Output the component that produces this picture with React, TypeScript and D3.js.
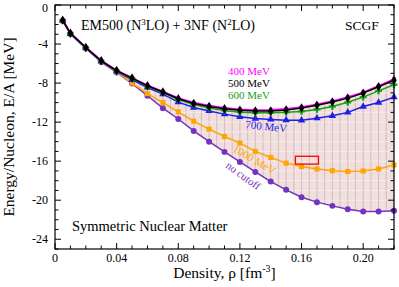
import React, { useEffect, useRef } from "react";
import * as d3 from "d3";

// densities [fm^-3]
const density = [0.005, 0.01, 0.02, 0.03, 0.04, 0.05, 0.06, 0.07, 0.08, 0.09, 0.1, 0.11, 0.12, 0.13, 0.14, 0.15, 0.16, 0.17, 0.18, 0.19, 0.2, 0.21, 0.22];

// E/A [MeV] for each cutoff
const e400 = [-1.5, -2.85, -4.3, -5.68, -6.68, -7.44, -8.22, -8.85, -9.52, -9.98, -10.3, -10.52, -10.68, -10.75, -10.74, -10.64, -10.44, -10.16, -9.83, -9.43, -8.93, -8.28, -7.58];
const e500 = [-1.55, -2.9, -4.35, -5.72, -6.72, -7.49, -8.28, -8.92, -9.6, -10.08, -10.4, -10.62, -10.78, -10.85, -10.85, -10.75, -10.55, -10.27, -9.94, -9.54, -9.03, -8.38, -7.7];
const e600 = [-1.58, -2.92, -4.37, -5.74, -6.75, -7.53, -8.33, -8.98, -9.68, -10.2, -10.55, -10.8, -10.98, -11.05, -11.05, -11.0, -10.9, -10.7, -10.4, -9.97, -9.44, -8.8, -8.17];
const e700 = [-1.6, -2.95, -4.4, -5.78, -6.8, -7.66, -8.45, -9.13, -9.95, -10.5, -10.85, -11.18, -11.45, -11.63, -11.72, -11.8, -11.82, -11.6, -11.35, -11.0, -10.4, -9.99, -9.44];
const e1000 = [-1.6, -2.95, -4.42, -5.8, -6.85, -8.0, -9.08, -10.0, -10.95, -11.9, -12.72, -13.47, -14.15, -15.0, -15.62, -16.2, -16.55, -16.81, -16.98, -17.06, -17.0, -16.8, -16.38];
const eNoCut = [-1.62, -2.98, -4.45, -5.85, -6.91, -8.05, -9.3, -10.57, -11.68, -12.9, -14.0, -15.05, -16.08, -17.1, -18.09, -18.94, -19.7, -20.2, -20.58, -20.92, -21.15, -21.15, -21.07];

// empirical saturation box
const satRho = [0.156, 0.171];
const satE = [-15.5, -16.3];

const xTicks = [0, 0.04, 0.08, 0.12, 0.16, 0.2];
const yTicks = [0, -4, -8, -12, -16, -20, -24];

const FONT = "'Liberation Serif', 'Times New Roman', serif";

const App = () => {
    const ref = useRef<SVGSVGElement>(null);

    useEffect(() => {
        const width = 399, height = 287;
        const margin = { top: 5, right: 5, bottom: 38, left: 55 };
        const iw = width - margin.left - margin.right;
        const ih = height - margin.top - margin.bottom;

        const svg = d3.select(ref.current);
        svg.selectAll("*").remove();
        const g = svg.append("g").attr("transform", `translate(${margin.left},${margin.top})`);

        const x = d3.scaleLinear().domain([0, 0.22]).range([0, iw]);
        const y = d3.scaleLinear().domain([-25, 0]).range([ih, 0]);

        // shaded band between 400 MeV and no cutoff
        const band = d3.area<number>()
            .x((d, i) => x(density[i]))
            .y0((d, i) => y(eNoCut[i]))
            .y1((d) => y(d));

        const defs = svg.append("defs");
        defs.append("clipPath").attr("id", "band-clip")
            .append("path").attr("d", band(e400));

        const shade = g.append("g").attr("clip-path", "url(#band-clip)");
        shade.append("rect").attr("x", 0).attr("y", 0).attr("width", iw).attr("height", ih).attr("fill", "#efdfdf");
        shade.selectAll(".vl").data(d3.range(0, 0.2251, 0.005)).enter().append("line")
            .attr("x1", d => x(d)).attr("x2", d => x(d)).attr("y1", 0).attr("y2", ih)
            .attr("stroke", "#d9b3b3").attr("stroke-width", 0.9);
        shade.selectAll(".hl").data(d3.range(-25, 0.5, 1)).enter().append("line")
            .attr("x1", 0).attr("x2", iw).attr("y1", d => y(d)).attr("y2", d => y(d))
            .attr("stroke", "#ffffff").attr("stroke-width", 0.8).attr("stroke-dasharray", "1.5,1.5");

        const series = [
            { values: eNoCut, color: "#7432c0", symbol: d3.symbolCircle, size: 28 },
            { values: e1000, color: "#ffa500", symbol: d3.symbolSquare, size: 26 },
            { values: e700, color: "#1f1fe6", symbol: d3.symbolTriangle, size: 24 },
            { values: e600, color: "#16a016", symbol: d3.symbolCross, size: 26 },
            { values: e400, color: "#ff00ff", symbol: d3.symbolCircle, size: 16 },
            { values: e500, color: "#000000", symbol: d3.symbolDiamond, size: 26 },
        ];

        const line = d3.line<number>().x((d, i) => x(density[i])).y(d => y(d));

        series.forEach(s => {
            g.append("path").attr("d", line(s.values)).attr("fill", "none")
                .attr("stroke", s.color).attr("stroke-width", 1.5);
            g.selectAll(null).data(s.values).enter().append("path")
                .attr("transform", (d, i) => `translate(${x(density[i])},${y(d)})`)
                .attr("d", d3.symbol().type(s.symbol).size(s.size)())
                .attr("fill", s.color);
        });

        // saturation box
        g.append("rect")
            .attr("x", x(satRho[0])).attr("y", y(satE[0]))
            .attr("width", x(satRho[1]) - x(satRho[0])).attr("height", y(satE[1]) - y(satE[0]))
            .attr("fill", "none").attr("stroke", "#ff0000").attr("stroke-width", 1.3);

        // frame and mirrored ticks
        g.append("rect").attr("x", 0).attr("y", 0).attr("width", iw).attr("height", ih)
            .attr("fill", "none").attr("stroke", "#000").attr("stroke-width", 1.2);

        const xMinor = d3.range(0, 0.2201, 0.01);
        const yMinor = d3.range(-25, 0.01, 1);
        const tickG = g.append("g").attr("stroke", "#000").attr("stroke-width", 1);
        xMinor.forEach(v => {
            const major = xTicks.some(t => Math.abs(t - v) < 1e-6);
            const len = major ? 6 : 3.5;
            tickG.append("line").attr("x1", x(v)).attr("x2", x(v)).attr("y1", ih).attr("y2", ih - len);
            tickG.append("line").attr("x1", x(v)).attr("x2", x(v)).attr("y1", 0).attr("y2", len);
        });
        yMinor.forEach(v => {
            const major = yTicks.some(t => Math.abs(t - v) < 1e-6);
            const len = major ? 6 : 3.5;
            tickG.append("line").attr("x1", 0).attr("x2", len).attr("y1", y(v)).attr("y2", y(v));
            tickG.append("line").attr("x1", iw).attr("x2", iw - len).attr("y1", y(v)).attr("y2", y(v));
        });

        g.selectAll(".xt").data(xTicks).enter().append("text")
            .attr("x", d => x(d)).attr("y", ih + 13).attr("text-anchor", "middle")
            .attr("font-family", FONT).attr("font-size", 12)
            .text(d => (d === 0 ? "0" : d3.format(".2f")(d)));
        g.selectAll(".yt").data(yTicks).enter().append("text")
            .attr("x", -7).attr("y", d => Math.max(y(d) + 4, 7)).attr("text-anchor", "end")
            .attr("font-family", FONT).attr("font-size", 12)
            .text(d => String(d));

        // axis titles
        const xl = g.append("text").attr("x", iw / 2).attr("y", ih + 29).attr("text-anchor", "middle")
            .attr("font-family", FONT).attr("font-size", 15.5);
        xl.append("tspan").text("Density, ρ [fm");
        xl.append("tspan").attr("dy", -6).attr("font-size", 10).text("-3");
        xl.append("tspan").attr("dy", 6).text("]");

        g.append("text").attr("transform", `translate(${-41},${ih / 2}) rotate(-90)`)
            .attr("text-anchor", "middle").attr("font-family", FONT).attr("font-size", 15.5)
            .text("Energy/Nucleon, E/A [MeV]");

        // annotations
        const title = g.append("text").attr("x", 26).attr("y", 25)
            .attr("font-family", FONT).attr("font-size", 14);
        title.append("tspan").text("EM500 (N");
        title.append("tspan").attr("dy", -5).attr("font-size", 9).text("3");
        title.append("tspan").attr("dy", 5).text("LO) + 3NF (N");
        title.append("tspan").attr("dy", -5).attr("font-size", 9).text("2");
        title.append("tspan").attr("dy", 5).text("LO)");

        g.append("text").attr("x", iw - 49).attr("y", 25)
            .attr("font-family", FONT).attr("font-size", 13.5).text("SCGF");

        g.append("text").attr("x", 17).attr("y", 226)
            .attr("font-family", FONT).attr("font-size", 14.5).text("Symmetric Nuclear Matter");

        const labels = [
            { text: "400 MeV", color: "#ff00ff", x: 173, y: 70, rot: 0 },
            { text: "500 MeV", color: "#000000", x: 173, y: 82, rot: 0 },
            { text: "600 MeV", color: "#16a016", x: 173, y: 94, rot: 0 },
            { text: "700 MeV", color: "#1f1fe6", x: 190, y: 123, rot: 6 },
            { text: "1000 MeV", color: "#ffa500", x: 177, y: 146, rot: 30 },
            { text: "no cutoff", color: "#7432c0", x: 170, y: 162, rot: 36 },
        ];
        labels.forEach(l => {
            g.append("text").attr("transform", `translate(${l.x},${l.y}) rotate(${l.rot})`)
                .attr("font-family", FONT).attr("font-size", 11).attr("fill", l.color).text(l.text);
        });
    }, []);

    return (
        <svg ref={ref} width={399} height={287}
            style={{ position: "absolute", left: 0, top: 0, background: "#fff" }} />
    );
};

export default App;
